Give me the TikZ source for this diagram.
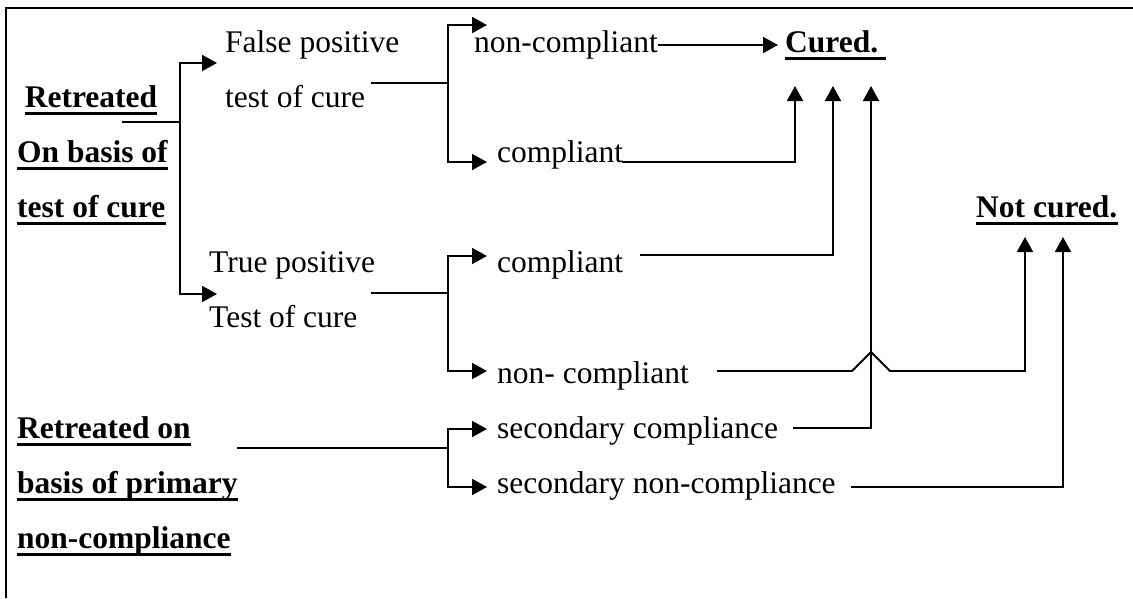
\documentclass[tikz,border=0pt]{standalone}
\usepackage{fontspec}
\setmainfont{Liberation Serif}
\usetikzlibrary{arrows.meta}
\begin{document}
\begin{tikzpicture}[x=1pt,y=-1pt,
  txt/.style={inner sep=0pt, anchor=base west, font=\fontsize{31.5pt}{36pt}\selectfont},
  head/.style={txt, font=\fontsize{31.5pt}{36pt}\selectfont\bfseries},
  wire/.style={line width=1.9pt, line join=miter},
  arr/.style={wire, -{Triangle[length=15pt,width=16pt]}},
  uline/.style={line width=2.7pt}]
\useasboundingbox (0,0) rectangle (1133,598);
% open frame: only the top and left rules
\draw[line width=2pt] (6,598) -- (6,8) -- (1133,8);

% left-hand headings
\node[head, anchor=base] (rtA) at (91,107) {Retreated};
\node[head] (rtB) at (17,162) {On basis of};
\node[head] (rtC) at (17,217) {test of cure};
\node[head] (rpA) at (17,438) {Retreated on};
\node[head] (rpB) at (17,493) {basis of primary};
\node[head] (rpC) at (17,548) {non-compliance};

% outcomes
\node[head] (cured) at (785,52) {Cured.};
\node[head] (notcured) at (976,217) {Not cured.};

% intermediate states
\node[txt] (fpA) at (225,52) {False positive};
\node[txt] (fpB) at (225,107) {test of cure};
\node[txt] (tpA) at (209,272) {True positive};
\node[txt] (tpB) at (209,327) {Test of cure};

\node[txt] (ncA) at (474,52) {non-compliant};
\node[txt] (cA) at (497,162) {compliant};
\node[txt] (cB) at (497,272) {compliant};
\node[txt] (ncB) at (497,383) {non- compliant};
\node[txt] (sc) at (497,438) {secondary compliance};
\node[txt] (snc) at (497,493) {secondary non-compliance};

% underlines of the bold headings
\foreach \n in {rtA,rtB,rtC,rpA,rpB,rpC,notcured}
  \draw[uline] ([yshift=-6.5pt]\n.base west) -- ([yshift=-6.5pt]\n.base east);
\draw[uline] ([yshift=-6.5pt]cured.base west) -- ([yshift=-6.5pt,xshift=8pt]cured.base east);

% junctions and arrow ends
\coordinate (s1) at (122,122);
\coordinate (j1) at (180,122);
\coordinate (a1) at (217,63);
\coordinate (a2) at (217,294);

\coordinate (s2) at (371,83);
\coordinate (j2) at (448,83);
\coordinate (a3) at (487,25);
\coordinate (a4) at (487,162);

\coordinate (s3) at (371,293);
\coordinate (j3) at (448,293);
\coordinate (a5) at (487,256);
\coordinate (a6) at (487,371);

\coordinate (s4) at (237,448);
\coordinate (j4) at (448,448);
\coordinate (a7) at (487,429);
\coordinate (a8) at (487,487);

% first split: test of cure
\draw[wire] (s1) -- (j1);
\draw[arr] (j1) |- (a1);
\draw[arr] (j1) |- (a2);

% false positive split
\draw[wire] (s2) -- (j2);
\draw[arr] (j2) |- (a3);
\draw[arr] (j2) |- (a4);

% true positive split
\draw[wire] (s3) -- (j3);
\draw[arr] (j3) |- (a5);
\draw[arr] (j3) |- (a6);

% primary non-compliance split
\draw[wire] (s4) -- (j4);
\draw[arr] (j4) |- (a7);
\draw[arr] (j4) |- (a8);

% to Cured.
\draw[arr] (658,45) -- (778,45);
\draw[arr] (622,162) -| (795,86);
\draw[arr] (640,255) -| (833,86);
\draw[arr] (793,428) -| (871,86);

% to Not cured. (with a hop over the vertical line)
\draw[arr] (717,371) -- (852,371) -- (871,352) -- (890,371) -| (1025,237);
\draw[arr] (851,487) -| (1063,237);
\end{tikzpicture}
\end{document}
